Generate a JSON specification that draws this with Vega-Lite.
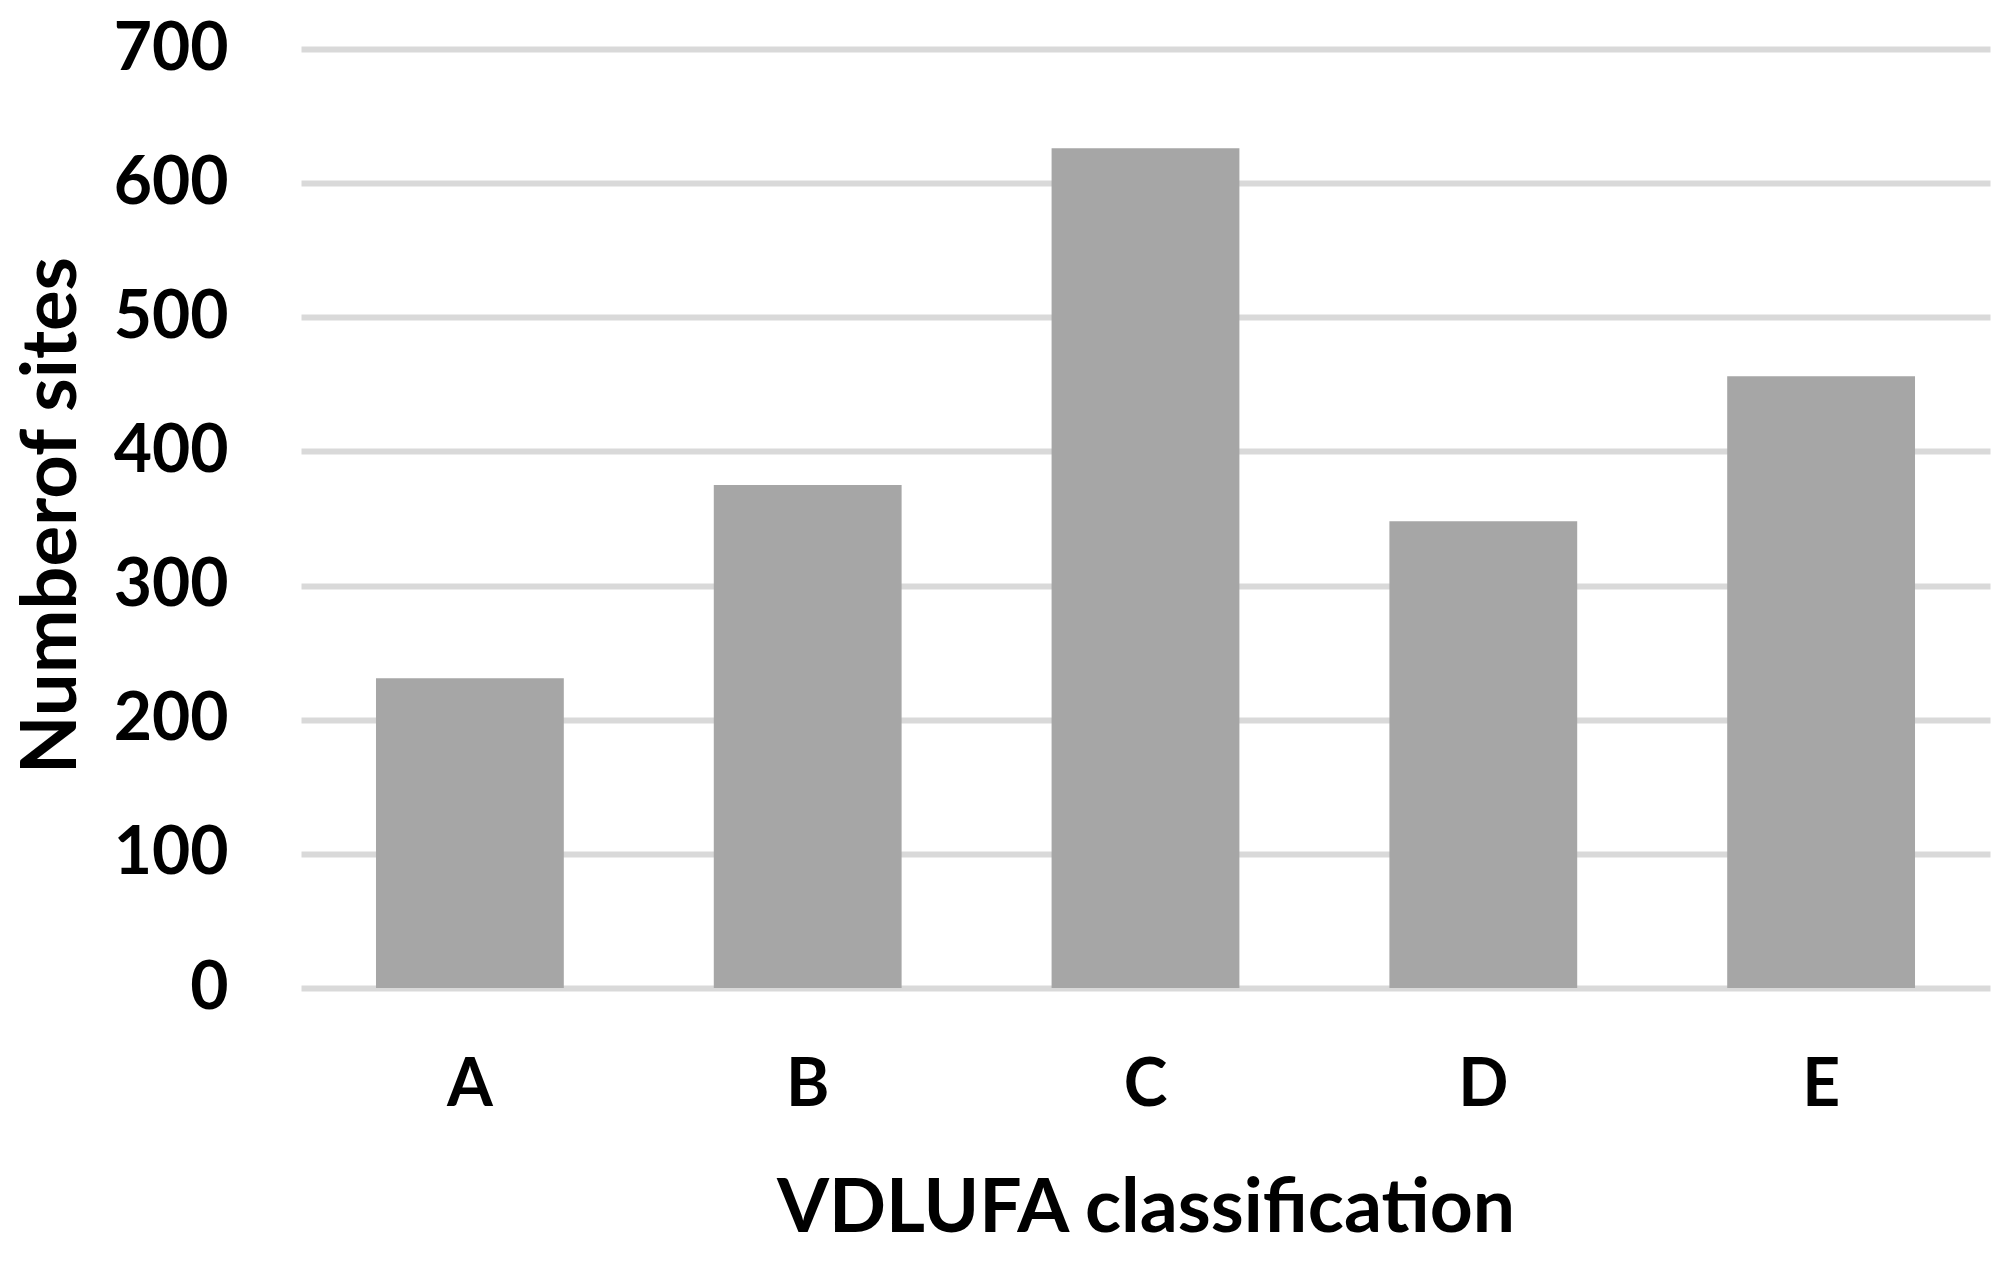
{
  "$schema": "https://vega.github.io/schema/vega-lite/v6.json",
  "width": 1689,
  "height": 939,
  "autosize": {"type": "none"},
  "padding": {"left": 301, "top": 49, "right": 23, "bottom": 273},
  "background": "white",
  "config": {"view": {"stroke": null}, "font": "Lato"},
  "data": {
    "values": [
      {"class": "A", "sites": 231},
      {"class": "B", "sites": 375},
      {"class": "C", "sites": 626},
      {"class": "D", "sites": 348},
      {"class": "E", "sites": 456}
    ]
  },
  "mark": {"type": "bar", "color": "#a6a6a6"},
  "encoding": {
    "x": {
      "field": "class",
      "type": "nominal",
      "scale": {"paddingInner": 0.444, "paddingOuter": 0.222},
      "axis": {
        "title": "VDLUFA classification",
        "labelAngle": 0,
        "domain": false,
        "ticks": false,
        "tickSize": 0,
        "labelFont": "Lato",
        "labelFontSize": 66,
        "labelFontWeight": "bold",
        "labelColor": "#000000",
        "labelBaseline": "alphabetic",
        "labelPadding": 117,
        "titleFont": "Lato",
        "titleFontSize": 75,
        "titleFontWeight": "bold",
        "titleColor": "#000000",
        "titleBaseline": "alphabetic",
        "titleAlign": "center",
        "titleX": 844.5,
        "titleY": 243
      }
    },
    "y": {
      "field": "sites",
      "type": "quantitative",
      "scale": {"domain": [0, 700], "nice": false},
      "axis": {
        "title": "Numberof sites",
        "values": [0, 100, 200, 300, 400, 500, 600, 700],
        "domain": false,
        "ticks": false,
        "tickSize": 0,
        "grid": true,
        "gridColor": "#d9d9d9",
        "gridWidth": 6,
        "gridOpacity": 1,
        "labelFont": "Lato",
        "labelFontSize": 66,
        "labelFontWeight": "bold",
        "labelColor": "#000000",
        "labelPadding": 73,
        "labelAlign": "right",
        "labelBaseline": "middle",
        "titleFont": "Lato",
        "titleFontSize": 76,
        "titleFontWeight": "bold",
        "titleColor": "#000000",
        "titleAngle": -90,
        "titleBaseline": "alphabetic",
        "titleAlign": "center",
        "titleX": -226,
        "titleY": 466
      }
    }
  }
}
